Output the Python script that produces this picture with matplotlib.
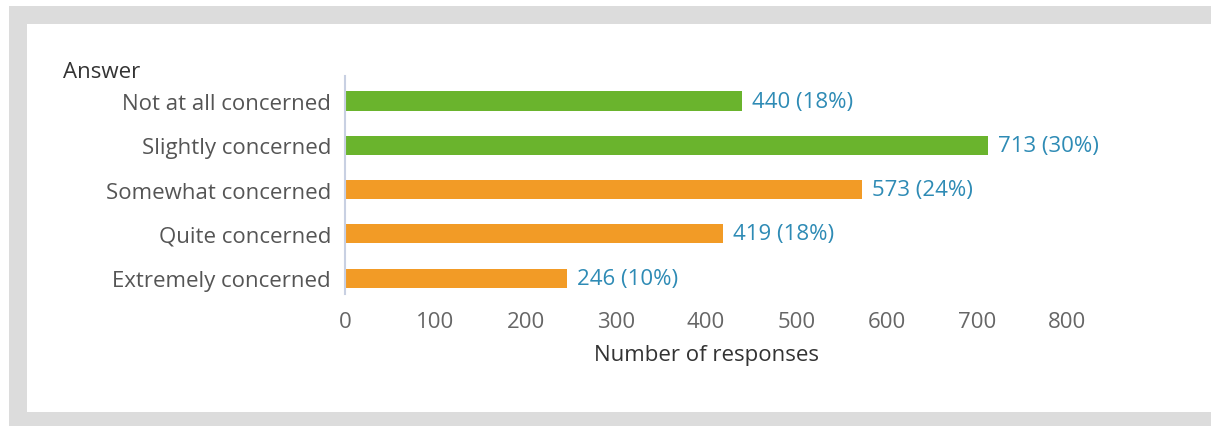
import matplotlib.pyplot as plt
from matplotlib.patches import Rectangle

# survey answers, top to bottom
answers = ["Not at all concerned", "Slightly concerned", "Somewhat concerned",
           "Quite concerned", "Extremely concerned"]
counts = [440, 713, 573, 419, 246]
labels = ["440 (18%)", "713 (30%)", "573 (24%)", "419 (18%)", "246 (10%)"]
bar_colors = ["#6ab42d", "#6ab42d", "#f29b26", "#f29b26", "#f29b26"]
xticks = [0, 100, 200, 300, 400, 500, 600, 700, 800]

plt.rcParams['font.family'] = ['Open Sans', 'DejaVu Sans']
FS = 16

W, H = 1211, 427
fig = plt.figure(figsize=(W / 100, H / 100), dpi=100, facecolor="white")

# grey frame and white panel (behind the axes)
fig.patches.append(Rectangle((9 / W, 0), 1 - 9 / W, 1 - 7 / H, transform=fig.transFigure,
                             facecolor="#dcdcdc", edgecolor="none", zorder=-2))
fig.patches.append(Rectangle((27 / W, 14 / H), 1 - 27 / W, (413 - 25) / H, transform=fig.transFigure,
                             facecolor="white", edgecolor="none", zorder=-1))

ax = fig.add_axes([345 / W, (H - 295) / H, (1067 - 345) / W, (295 - 77) / H])
ax.set_facecolor("none")

y = list(range(len(answers)))
ax.barh(y, counts, height=0.43, color=bar_colors)
for yi, c, lab in zip(y, counts, labels):
    ax.text(c + 11, yi, lab, va="center", ha="left", fontsize=FS, color="#2e8bb5", clip_on=False)

ax.set_xlim(0, 800)
ax.set_ylim(4.36, -0.565)
ax.set_yticks(y)
ax.set_yticklabels(answers)
ax.set_xticks(xticks)
ax.tick_params(axis="y", length=0, pad=10, labelsize=FS, labelcolor="#555555")
ax.tick_params(axis="x", length=0, pad=12, labelsize=FS, labelcolor="#666666")

for side in ["top", "right", "bottom"]:
    ax.spines[side].set_visible(False)
ax.spines["left"].set_color("#c8d0e2")
ax.spines["left"].set_linewidth(1.5)

ax.set_xlabel("Number of responses", fontsize=FS, color="#333333", labelpad=9)
fig.text(63 / W, 1 - 72 / H, "Answer", fontsize=FS, color="#333333", ha="left", va="center")

fig.savefig("out.png", dpi=100, facecolor=fig.get_facecolor())
